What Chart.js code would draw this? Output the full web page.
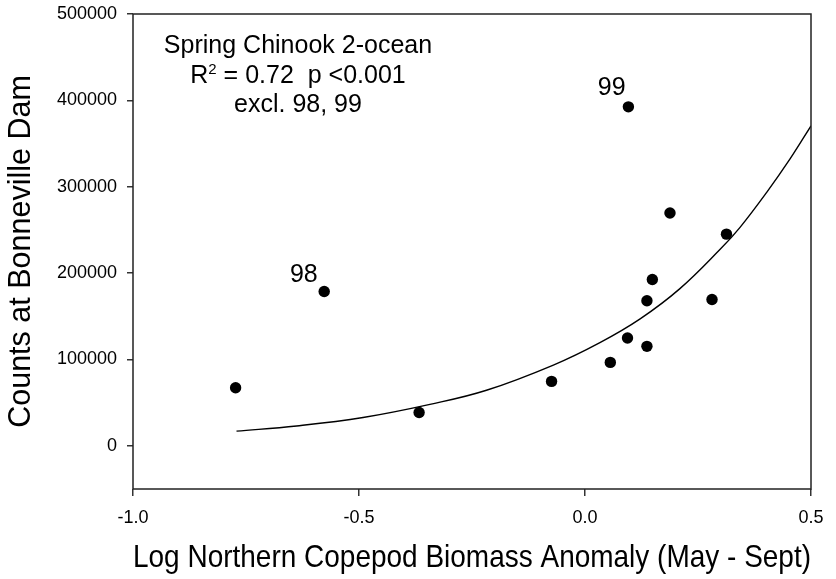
<!DOCTYPE html>
<html><head><meta charset="utf-8">
<script src="https://cdn.jsdelivr.net/npm/chart.js@4.4.1/dist/chart.umd.min.js"></script>
<style>html,body{margin:0;padding:0;background:#fff}#wrap{width:836px;height:579px}</style>
</head><body><div id="wrap"><canvas id="c" width="836" height="579"></canvas></div>
<script>
// observed points (Log northern copepod biomass anomaly vs. counts)
const xValues = [-0.773, -0.577, -0.367, -0.074, 0.056, 0.094, 0.096, 0.137, 0.137, 0.149, 0.188, 0.281, 0.313];
const yValues = [67300, 178700, 38600, 74600, 96600, 124900, 392500, 115200, 167900, 192600, 269500, 169400, 245100];
// fitted curve
const fitX = [-0.771, -0.638, -0.491, -0.343, -0.218, -0.070, 0.033, 0.122, 0.210, 0.299, 0.343, 0.402, 0.454, 0.500];
const fitY = [17000, 23000, 32800, 48000, 64300, 93500, 119500, 147000, 182000, 227500, 253000, 293500, 332500, 370500];
const xTicks = [-1.0, -0.5, 0.0, 0.5];
const yTicks = [0, 100000, 200000, 300000, 400000, 500000];
const pointLabels = ['98', '99'];
const pointLabelX = [-0.622, 0.059];
const pointLabelY = [190000, 406000];
const noteX = -0.635;
const noteY = [454800, 420000, 386300];
const noteLine1 = 'Spring Chinook 2-ocean';
const noteLine2 = ['R', '2', ' = 0.72  p <0.001'];
const noteLine3 = 'excl. 98, 99';
const xTitle = 'Log Northern Copepod Biomass Anomaly (May - Sept)';
const yTitle = 'Counts at Bonneville Dam';

const FONT = '"Liberation Sans", Arial, Helvetica, sans-serif';
const AREA = {left: 133, top: 14, right: 811, bottom: 489};

const bgPlugin = {
  id: 'bg',
  beforeDraw(chart) {
    const ctx = chart.ctx;
    ctx.save(); ctx.fillStyle = '#fff'; ctx.fillRect(0, 0, chart.width, chart.height); ctx.restore();
  }
};

const framePlugin = {
  id: 'frame',
  afterDraw(chart) {
    const {ctx, chartArea: a, scales} = chart;
    ctx.save();
    ctx.strokeStyle = '#222'; ctx.lineWidth = 1.5;
    ctx.strokeRect(a.left, a.top, a.right - a.left, a.bottom - a.top);
    ctx.fillStyle = '#000';
    ctx.textBaseline = 'alphabetic';
    ctx.textAlign = 'center';
    ctx.font = '25px ' + FONT;
    const xs = scales.x, ys = scales.y;
    for (let i = 0; i < pointLabels.length; i++) {
      ctx.fillText(pointLabels[i], xs.getPixelForValue(pointLabelX[i]), ys.getPixelForValue(pointLabelY[i]));
    }
    const cx = xs.getPixelForValue(noteX);
    ctx.fillText(noteLine1, cx, ys.getPixelForValue(noteY[0]));
    ctx.fillText(noteLine3, cx, ys.getPixelForValue(noteY[2]));
    const by = ys.getPixelForValue(noteY[1]);
    ctx.font = '25px ' + FONT;
    const wR = ctx.measureText(noteLine2[0]).width;
    const wRest = ctx.measureText(noteLine2[2]).width;
    ctx.font = '15px ' + FONT;
    const wSup = ctx.measureText(noteLine2[1]).width;
    const total = wR + wSup + wRest;
    const x0 = cx - total / 2;
    ctx.textAlign = 'left';
    ctx.font = '25px ' + FONT;
    ctx.fillText(noteLine2[0], x0, by);
    ctx.font = '15px ' + FONT;
    ctx.fillText(noteLine2[1], x0 + wR, by - 9);
    ctx.font = '25px ' + FONT;
    ctx.fillText(noteLine2[2], x0 + wR + wSup, by);
    ctx.restore();
  }
};

const pts = xValues.map((x, i) => ({x, y: yValues[i]}));
const fit = fitX.map((x, i) => ({x, y: fitY[i]}));

const chart = new Chart(document.getElementById('c'), {
  type: 'scatter',
  data: {
    datasets: [
      {data: fit, showLine: true, pointRadius: 0, borderColor: '#000', borderWidth: 1.4,
       tension: 0.4, fill: false, order: 2},
      {data: pts, pointRadius: 5.7, pointHoverRadius: 5.7, backgroundColor: '#000', borderWidth: 0, order: 1}
    ]
  },
  options: {
    responsive: false,
    devicePixelRatio: 1,
    animation: false,
    layout: {padding: {top: AREA.top, right: 836 - AREA.right, left: 0, bottom: 0}},
    plugins: {legend: {display: false}, tooltip: {enabled: false}},
    scales: {
      x: {
        type: 'linear', min: -1, max: 0.5,
        afterBuildTicks: s => { s.ticks = xTicks.map(v => ({value: v})); },
        afterFit: s => { s.height = 579 - AREA.bottom; s.paddingLeft = 0; s.paddingRight = 0; },
        ticks: {callback: v => Number(v).toFixed(1), font: {size: 18, family: FONT}, color: '#000',
                padding: 11, maxRotation: 0, autoSkip: false},
        grid: {drawOnChartArea: false, tickLength: 7, color: '#333', lineWidth: 1.5},
        border: {display: false},
        title: {display: true, text: xTitle, font: {size: 30.5, family: FONT}, color: '#000',
                padding: {top: 0, bottom: 2}}
      },
      y: {
        type: 'linear', min: -50000, max: 500000,
        afterBuildTicks: s => { s.ticks = yTicks.map(v => ({value: v})); },
        afterFit: s => { s.width = AREA.left; s.paddingTop = 0; s.paddingBottom = 0; },
        ticks: {callback: v => String(v), font: {size: 18, family: FONT}, color: '#000', padding: 10, autoSkip: false},
        grid: {drawOnChartArea: false, tickLength: 6, color: '#333', lineWidth: 1.5},
        border: {display: false},
        title: {display: true, text: yTitle, font: {size: 30.5, family: FONT}, color: '#000',
                padding: {top: 3, bottom: 0}}
      }
    }
  },
  plugins: [bgPlugin, framePlugin]
});
// make sure the plot area sits exactly where the reference has it
const ca = chart.chartArea;
const p = chart.options.layout.padding;
let changed = false;
if (Math.abs(ca.top - AREA.top) > 0.2) { p.top = p.top - (ca.top - AREA.top); changed = true; }
if (Math.abs(ca.right - AREA.right) > 0.2) { p.right = p.right + (ca.right - AREA.right); changed = true; }
if (changed) chart.update();
</script>
</body></html>
